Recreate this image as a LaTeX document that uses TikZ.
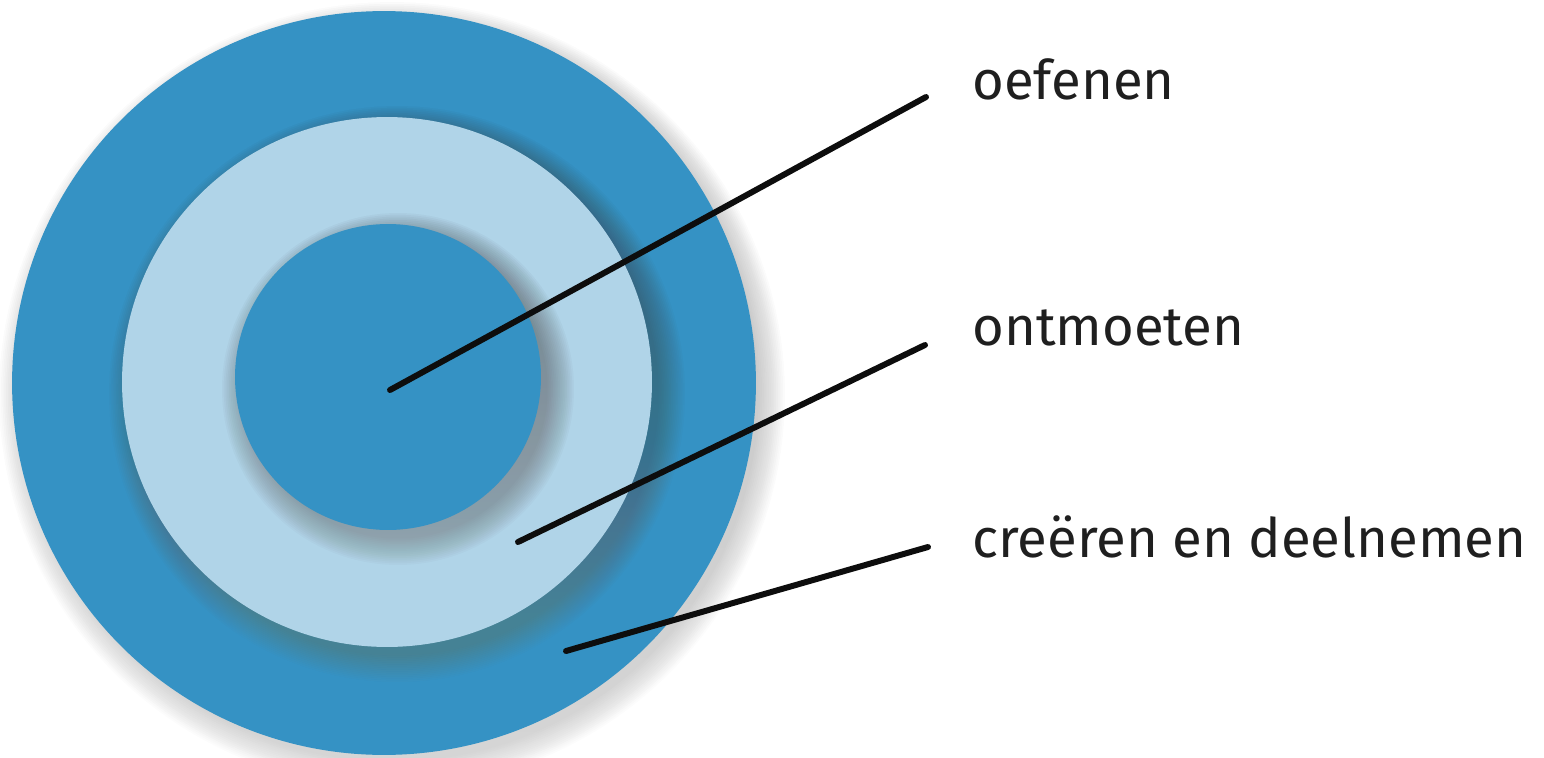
\documentclass[tikz,border=0pt]{standalone}
\usepackage{fontspec}
\setmainfont{Fira Sans}
\usepackage{tikz}
\usetikzlibrary{positioning}

\definecolor{ringdark}{RGB}{53,146,196}
\definecolor{ringlight}{RGB}{176,212,232}
\definecolor{shade}{RGB}{30,50,80}

\begin{document}
\begin{tikzpicture}[x=0.02cm, y=-0.02cm,
  ring/.style={circle, draw=none, inner sep=0pt, outer sep=0pt},
  lbl/.style={anchor=base west, inner sep=0pt, font=\fontsize{31}{36}\selectfont, text=black!88},
  lead/.style={line width=3.4pt, draw=black!95, line cap=round}
]
  \useasboundingbox (0,0) rectangle (1544,757);

  % soft shadow, outer disc
  \foreach \k in {1,...,16}
    \fill[shade, opacity=0.012] (392,395) circle[radius=7.3cm+\k*0.035cm];
  \node[ring, fill=ringdark, minimum size=14.88cm] (outer) at (384,383) {};

  % soft shadow, middle disc
  \foreach \k in {1,...,16}
    \fill[shade, opacity=0.018] (397,394) circle[radius=5.2cm+\k*0.035cm];
  \node[ring, fill=ringlight, minimum size=10.6cm] (middle) at (387,382) {};

  % soft shadow, inner disc
  \foreach \k in {1,...,16}
    \fill[shade, opacity=0.018] (398,389) circle[radius=2.96cm+\k*0.035cm];
  \node[ring, fill=ringdark, minimum size=6.12cm] (inner) at (388,377) {};

  % labels
  \node[lbl] (oefenen) at (972,100) {oefenen};
  \node[lbl] (ontmoeten) at (972,345) {ontmoeten};
  \node[lbl] (creeren) at (972,557) {creëren en deelnemen};

  % leader lines
  \coordinate (p1) at (390,390);
  \coordinate (p2) at (518,542);
  \coordinate (p3) at (566,651);
  \coordinate (e1) at (926,97);
  \coordinate (e2) at (925,345);
  \coordinate (e3) at (928,547);
  \draw[lead] (p1) -- (e1);
  \draw[lead] (p2) -- (e2);
  \draw[lead] (p3) -- (e3);
\end{tikzpicture}
\end{document}
